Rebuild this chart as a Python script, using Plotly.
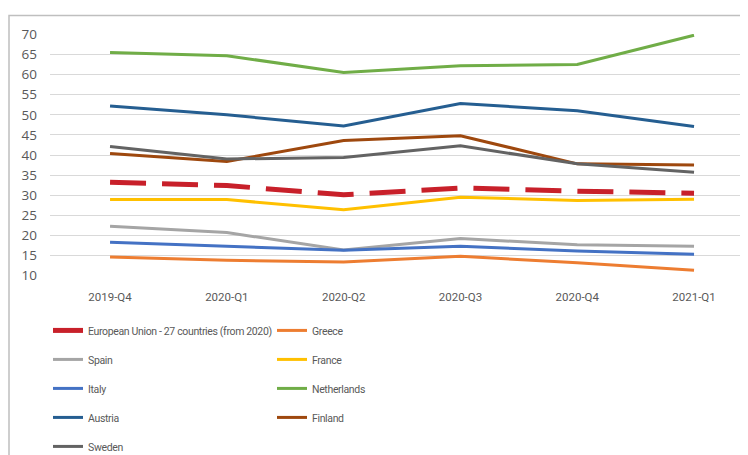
import plotly.graph_objects as go

quarters = ["2019-Q4", "2020-Q1", "2020-Q2", "2020-Q3", "2020-Q4", "2021-Q1"]

eu = [33.2, 32.4, 30.1, 31.8, 31.0, 30.5]
greece = [14.6, 13.8, 13.4, 14.8, 13.2, 11.3]
spain = [22.3, 20.7, 16.4, 19.2, 17.7, 17.3]
france = [28.9, 28.9, 26.4, 29.5, 28.7, 29.0]
italy = [18.3, 17.3, 16.3, 17.3, 16.1, 15.3]
netherlands = [65.5, 64.7, 60.5, 62.2, 62.5, 69.8]
austria = [52.2, 50.0, 47.2, 52.8, 51.0, 47.1]
finland = [40.4, 38.4, 43.6, 44.8, 37.8, 37.5]
sweden = [42.1, 39.0, 39.4, 42.3, 37.8, 35.7]

series = [
    ("European Union - 27 countries (from 2020)", eu, "#C8202A", "legend"),
    ("Greece", greece, "#ED7D31", "legend2"),
    ("Spain", spain, "#A5A5A5", "legend"),
    ("France", france, "#FFC000", "legend2"),
    ("Italy", italy, "#4472C4", "legend"),
    ("Netherlands", netherlands, "#70AD47", "legend2"),
    ("Austria", austria, "#255E91", "legend"),
    ("Finland", finland, "#9E480E", "legend2"),
    ("Sweden", sweden, "#636363", "legend"),
]

FONT = "Roboto, Arial, sans-serif"

fig = go.Figure()
order = [1, 2, 3, 4, 5, 6, 7, 8, 0]
for i in order:
    name, vals, color, lg = series[i]
    is_eu = i == 0
    fig.add_trace(go.Scatter(
        x=list(range(len(quarters))), y=vals,
        name='<span style="letter-spacing:-0.35px">' + name + '</span>',
        mode="lines",
        line=dict(color=color, width=5 if is_eu else 3,
                  dash="36px,16px" if is_eu else "solid"),
        legend=lg, legendgroup=name, legendrank=i,
    ))

OFF = 8  # page body margin
W, H = 748 - OFF, 455 - OFF
L, R, T = 50 - OFF, 0, 33.5 - OFF
ph = 242.5
B = H - T - ph
pw = W - L - R

def px2x(px):
    return (px - OFF - L) / pw

def py2y(py):
    return (H - B - (py - OFF)) / ph

legend_common = dict(
    xanchor="left", yanchor="top", orientation="v", tracegroupgap=10,
    bgcolor="rgba(0,0,0,0)", traceorder="grouped",
    font=dict(size=10.5, color="#595959", family=FONT),
)

fig.update_layout(
    width=W, height=H,
    margin=dict(l=L, r=R, t=T, b=B, autoexpand=False),
    paper_bgcolor="white", plot_bgcolor="white",
    font=dict(family=FONT, size=12, color="#595959"),
    xaxis=dict(
        tickmode="array", tickvals=list(range(len(quarters))), ticktext=quarters,
        range=[-0.514, 5.462], showgrid=False, zeroline=False, showline=False,
        ticks="", ticklabelstandoff=12, tickfont=dict(size=11.5, color="#595959"),
    ),
    yaxis=dict(
        range=[9.9, 70.1], tickmode="array", tickvals=list(range(10, 75, 5)),
        showgrid=True, gridcolor="#D9D9D9", gridwidth=1, zeroline=False,
        showline=False, ticks="", ticklabelstandoff=12,
        tickfont=dict(size=13.5, color="#595959", family="Open Sans, Arial, sans-serif"),
    ),
    legend=dict(x=px2x(48), y=py2y(316), **legend_common),
    legend2=dict(x=px2x(272), y=py2y(316), **legend_common),
    shapes=[dict(
        type="rect", xref="paper", yref="paper",
        x0=px2x(9), x1=px2x(770), y0=py2y(480), y1=py2y(15),
        line=dict(color="#BFBFBF", width=1.5), fillcolor="rgba(0,0,0,0)", layer="below",
    )],
)

fig.write_html("out.html")
